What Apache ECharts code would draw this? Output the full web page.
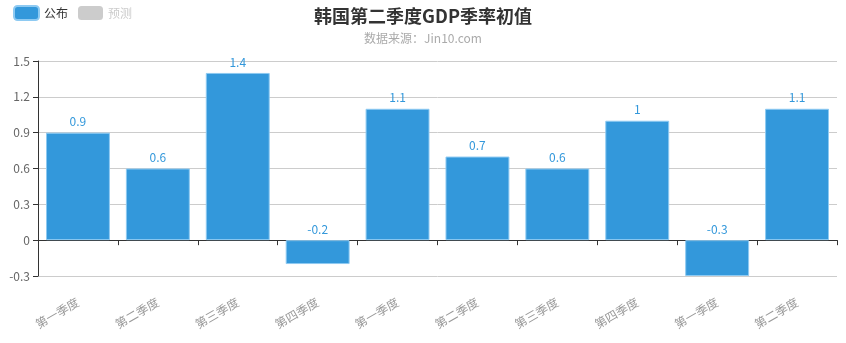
<!DOCTYPE html>
<html><head><meta charset="utf-8">
<script src="https://cdn.jsdelivr.net/npm/echarts@6/dist/echarts.min.js"></script>
<style>html,body{margin:0;padding:0;background:#fff}#c{width:846px;height:343px}</style>
</head><body><div id="c"></div>
<script>
const categories = ['第一季度','第二季度','第三季度','第四季度','第一季度','第二季度','第三季度','第四季度','第一季度','第二季度'];
const publishedValues = [0.9, 0.6, 1.4, -0.2, 1.1, 0.7, 0.6, 1, -0.3, 1.1];
const forecastValues = [];
const yTicks = {min: -0.3, max: 1.5, interval: 0.3};

const font = '"Microsoft YaHei","Noto Sans CJK SC",sans-serif';
const chart = echarts.init(document.getElementById('c'));
chart.setOption({
  animation: false,
  textStyle: {fontFamily: font},
  title: {
    text: '韩国第二季度GDP季率初值',
    subtext: '数据来源：Jin10.com',
    left: 'center', top: 2,
    textStyle: {fontSize: 18, fontWeight: 'bold', color: '#333', fontFamily: font},
    subtextStyle: {fontSize: 12, color: '#aaa', fontFamily: font},
    itemGap: 7
  },
  legend: {
    left: 8, top: 0,
    itemWidth: 25, itemHeight: 14, itemGap: 10,
    inactiveColor: '#ccc',
    textStyle: {color: '#333', fontSize: 12, fontFamily: font},
    data: ['公布', '预测'],
    selected: {'公布': true, '预测': false}
  },
  grid: {left: 38, right: 9, top: 61, bottom: 67, containLabel: false},
  xAxis: {
    type: 'category',
    data: categories,
    axisLine: {onZero: true, lineStyle: {color: '#333'}},
    axisTick: {show: true, alignWithLabel: false},
    axisLabel: {rotate: 30, color: '#999', fontSize: 12, interval: 0, margin: 25}
  },
  yAxis: {
    type: 'value',
    min: yTicks.min, max: yTicks.max, interval: yTicks.interval,
    axisLine: {show: true, lineStyle: {color: '#333'}},
    axisTick: {show: true},
    axisLabel: {color: '#666', fontSize: 12},
    splitLine: {lineStyle: {color: '#ccc'}}
  },
  series: [
    {
      name: '公布', type: 'bar', data: publishedValues,
      barCategoryGap: '20%',
      itemStyle: {color: '#3398DB', borderColor: '#8ecaf2', borderWidth: 1},
      label: {show: true, position: 'top', color: '#3398DB', fontSize: 12}
    },
    {
      name: '预测', type: 'bar', data: forecastValues,
      itemStyle: {color: '#c8c8c8'}
    }
  ]
});
</script></body></html>
